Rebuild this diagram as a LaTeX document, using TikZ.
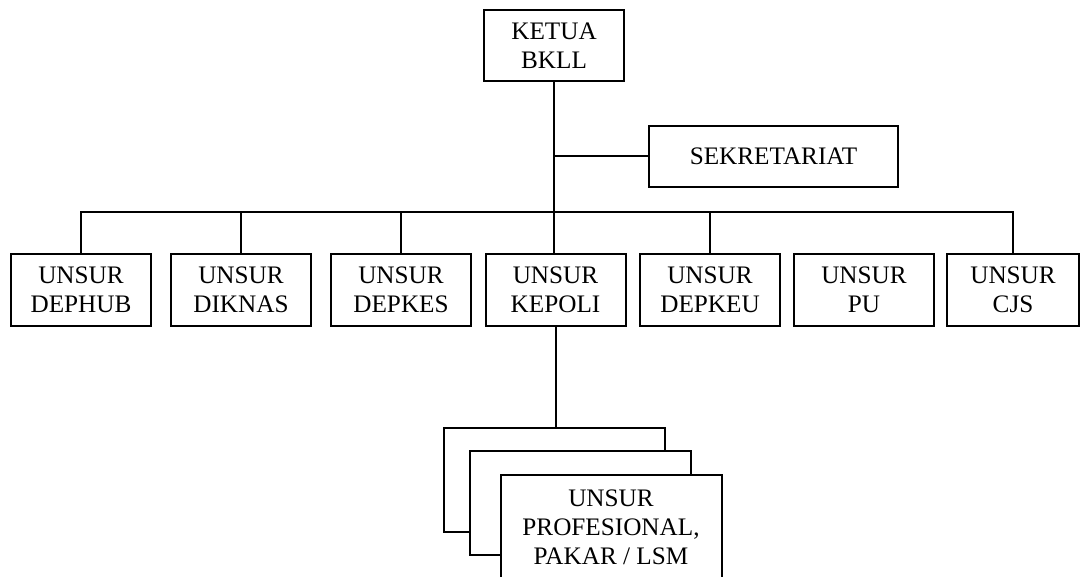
\documentclass[tikz,border=0pt]{standalone}
\usepackage{fontspec}
\setmainfont{Liberation Serif}
\begin{document}
\begin{tikzpicture}[
        x=0.5pt, y=-0.5pt, % 1 px = 0.5 pt
        line width=1pt,
        kotak/.style={rectangle, draw, fill=white, align=center, inner sep=0pt,
                font=\fontsize{12.6}{14.5}\selectfont}, % Стиль узлов
        unsur/.style={kotak, minimum width=70pt, minimum height=36pt},
        pakarbox/.style={kotak, minimum width=110.5pt, minimum height=52pt},
    ]
    \useasboundingbox (0,0) rectangle (1080,577);
    \clip (0,0) rectangle (1080,577);

    \node[kotak, minimum width=70pt, minimum height=35.5pt] (ketua) at (554,45.5) {KETUA\\BKLL};
    \node[kotak, minimum width=124.5pt, minimum height=30.5pt] (sekretariat) at (773.5,156.5) {SEKRETARIAT};

    % Уровень unsur
    \node[unsur] (dephub) at (81,290) {UNSUR\\DEPHUB};
    \node[unsur] (diknas) at (241,290) {UNSUR\\DIKNAS};
    \node[unsur] (depkes) at (401,290) {UNSUR\\DEPKES};
    \node[unsur] (kepoli) at (555.5,290) {UNSUR\\KEPOLI};
    \node[unsur] (depkeu) at (710,290) {UNSUR\\DEPKEU};
    \node[unsur] (pu) at (864,290) {UNSUR\\PU};
    \node[unsur, minimum width=66pt] (cjs) at (1013,290) {UNSUR\\CJS};

    % Тройная стопка
    \node[pakarbox] (pakar1) at (554.5,480) {};
    \node[pakarbox] (pakar2) at (580.5,502.5) {};
    \node[pakarbox] (pakar) at (611,527) {UNSUR\\PROFESIONAL,\\PAKAR / LSM};

    \coordinate (bus) at (0,212);
    \draw (ketua.south) -- (ketua.south |- kepoli.north);
    \draw (ketua.south |- sekretariat.west) -- (sekretariat.west);
    \draw (dephub.north) -- (dephub.north |- bus) -- (cjs.north |- bus) -- (cjs.north);
    \foreach \n in {diknas,depkes,depkeu}
        \draw (\n.north) -- (\n.north |- bus);
    \draw (kepoli.south) -- (kepoli.south |- pakar1.north);
\end{tikzpicture}
\end{document}
